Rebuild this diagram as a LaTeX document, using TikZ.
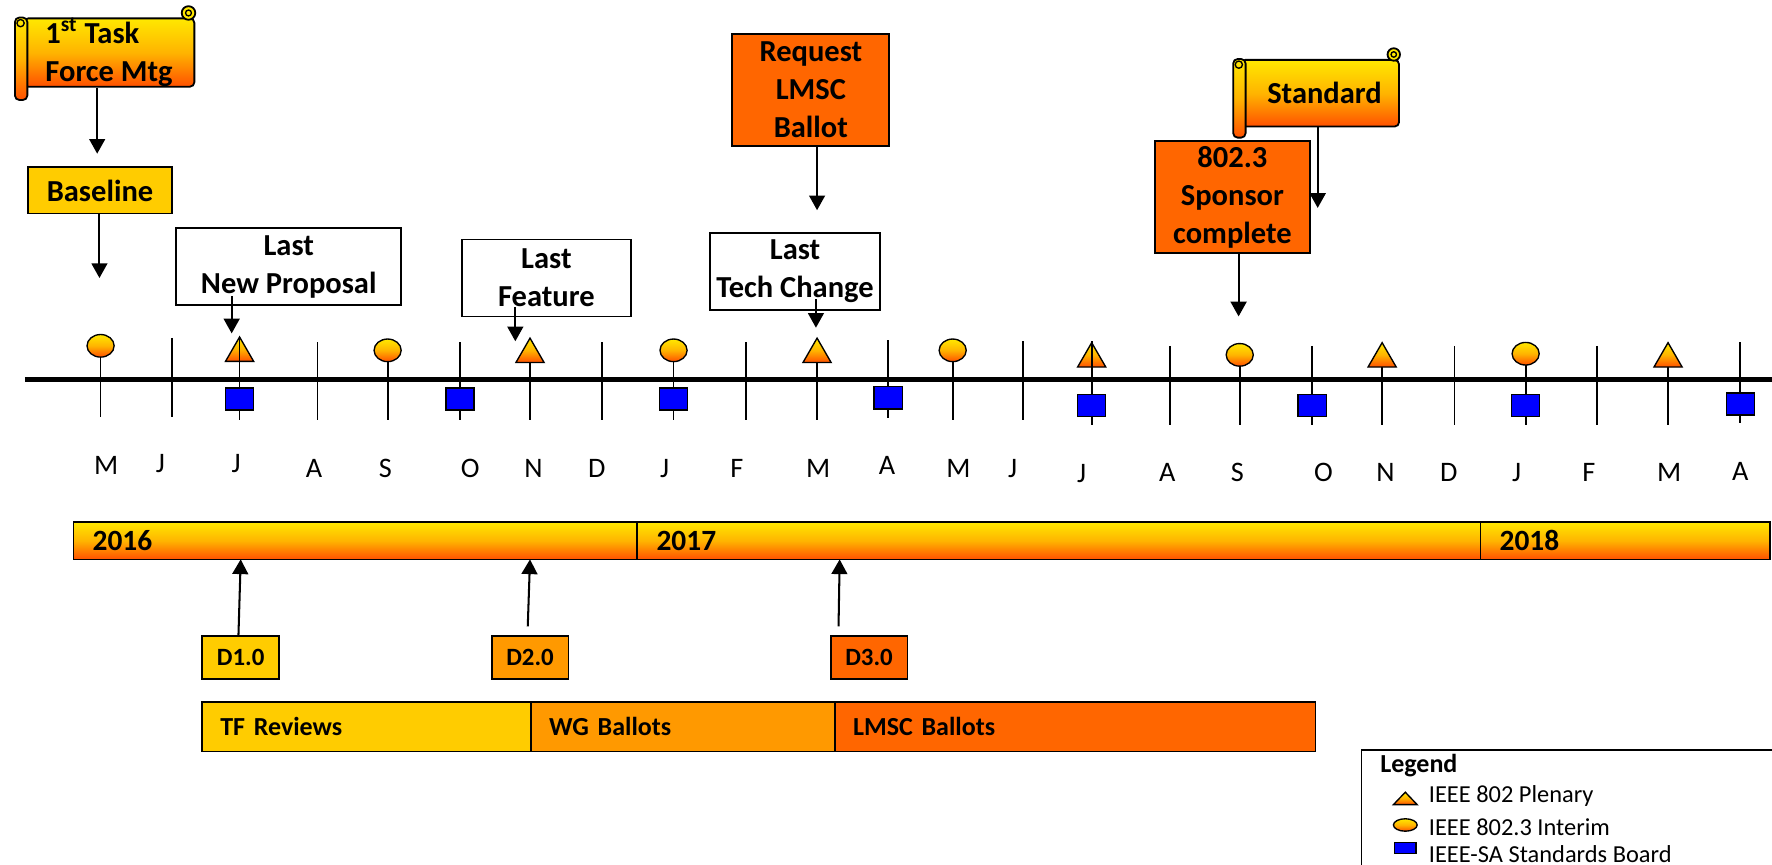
\documentclass[tikz,border=0pt]{standalone}
\usepackage{fontspec}
\setmainfont{Carlito}
\usetikzlibrary{positioning,calc,arrows.meta,shapes.geometric}

\definecolor{gold}{HTML}{FFCC00}
\definecolor{amber}{HTML}{FF9900}
\definecolor{pumpkin}{HTML}{FF6600}
\definecolor{sasbblue}{HTML}{0000FF}
\definecolor{shTop}{HTML}{FFE800}
\definecolor{shMid}{HTML}{FFB400}
\definecolor{shBot}{HTML}{FF5000}

\tikzset{
	boxfont/.style={font=\fontsize{13.5}{16.75}\selectfont\bfseries},
	msbox/.style={draw, line width=0.8pt, boxfont, align=center, inner sep=0pt},
	grad/.style={top color=shTop, bottom color=shBot, middle color=shMid},
	arr/.style={-{Triangle[length=6.5pt,width=7pt]}, line width=0.9pt},
	mtick/.style={line width=0.8pt},
	interim/.style={ellipse, draw, line width=0.6pt, grad, minimum width=12pt, minimum height=10pt, inner sep=0pt},
	plenary/.style={regular polygon, regular polygon sides=3, draw, line width=0.6pt, grad, minimum size=14.4pt, inner sep=0pt},
	sasb/.style={rectangle, draw, line width=0.6pt, fill=sasbblue, minimum width=12.5pt, minimum height=9.8pt, inner sep=0pt},
	month/.style={font=\fontsize{12.5}{14}\selectfont, anchor=base, inner sep=0pt},
	draftbox/.style={msbox, font=\fontsize{11}{13}\selectfont\bfseries, minimum width=34pt, minimum height=19pt},
	phasebar/.style={draw, line width=0.8pt, font=\fontsize{11.5}{14}\selectfont\bfseries, minimum height=22pt, inner xsep=8pt, outer sep=0pt, align=left, anchor=west},
	yearbar/.style={draw, line width=0.8pt, grad, font=\fontsize{13}{15}\selectfont\bfseries, minimum height=16.5pt, inner xsep=8.5pt, outer sep=0pt, align=left, anchor=west},
	scroll/.style={draw, line width=0.8pt, grad, rounded corners=2pt},
	legtext/.style={font=\fontsize{10.8}{12}\selectfont, anchor=base west, inner sep=0pt},
}

\begin{document}
\begin{tikzpicture}[x=0.5pt,y=-0.5pt]
	\useasboundingbox (0,0) rectangle (1568,765);

	% time line with months
	\draw[line width=2.2pt] (22,335.5) -- (1568,335.5);
	\foreach \tx/\lx/\m/\ly/\ta/\tb [count=\i] in {
		89/94/M/411.5/300/369, 152/142/J/410/299/369, 212/209/J/410/300/372,
		281/278/A/414.5/303/372, 343/341/S/414.5/304/372, 407/416/O/414.5/303/372,
		469/472/N/414.5/304/372, 533/528/D/414.5/303/372, 596/588/J/414.5/304/372,
		660/652/F/414.5/303/372, 723/724/M/414.5/304/372, 786/785/A/411.5/301/370,
		843/848/M/414.5/304/372, 905/896/J/414.5/302/372, 966/957/J/419/306/376,
		1035/1033/A/418/306/376, 1097/1095/S/418/308/376, 1161/1171/O/418/306/376,
		1223/1226/N/418/308/376, 1287/1282/D/418/306/376, 1350/1342/J/418/308/376,
		1413/1406/F/418/306/376, 1476/1477/M/418/308/376, 1540/1540/A/417/303/374}
	{
		\draw[mtick] (\tx,\ta) -- (\tx,\tb);
		\node[month] (m\i) at (\lx,\ly+8) {\m};
	}

	% meetings
	\foreach \x/\y [count=\i] in {89/306, 343/310, 596/310, 843/310, 1097/314, 1350/313}
		\node[interim] (int\i) at (\x,\y) {};
	\foreach \x/\y [count=\i] in {212/309, 469/310, 723/310, 966/314, 1223/314, 1476/314}
		\node[plenary] (plen\i) at (\x,\y+3.6) {};
	\draw[mtick] (plen1.north) -- (plen1.south);
	\draw[mtick] (plen4.north) -- (plen4.south);
	\foreach \x/\y [count=\i] in {212/353, 407/353, 596/353, 786/352, 966/359, 1161/359, 1350/359, 1540/357.5}
		\node[sasb] (sasb\i) at (\x,\y) {};

	% milestones above the line
	\node[scroll, boxfont, align=left, minimum width=75.5pt, minimum height=28.5pt, inner sep=0pt] (tfm) at (96.5,46.5) {1\textsuperscript{st} Task\\Force Mtg};
	\draw[scroll] ([xshift=-3.5pt]tfm.north west) rectangle ([xshift=2pt,yshift=-5.5pt]tfm.south west);
	\draw[line width=0.6pt] ([xshift=-1pt,yshift=-2.5pt]tfm.north west) circle (1.6pt);
	\draw[line width=0.8pt, fill=shTop] ([xshift=-3pt,yshift=2pt]tfm.north east) circle (3pt);
	\draw[line width=0.6pt] ([xshift=-3pt,yshift=2pt]tfm.north east) circle (1.3pt);

	\node[msbox, fill=gold, minimum width=63.5pt, minimum height=20.5pt] (base) at (88.5,168.5) {Baseline};
	\node[msbox, minimum width=99.5pt, minimum height=34pt] (lnp) at (255.5,236) {Last\\New Proposal};
	\node[msbox, minimum width=74.5pt, minimum height=34pt] (lfeat) at (483.5,246) {Last\\Feature};
	\node[msbox, minimum width=75.5pt, minimum height=34pt] (ltech) at (703.5,240) {Last\\Tech Change};
	\node[msbox, fill=pumpkin, minimum width=69.5pt, minimum height=49.5pt] (req) at (717.5,79.5) {Request\\LMSC\\Ballot};

	\node[scroll, boxfont, minimum width=70pt, minimum height=29.5pt, inner sep=0pt] (std) at (1168,82.5) {\hspace{4pt}Standard};
	\draw[scroll] ([xshift=-3pt]std.north west) rectangle ([xshift=2.5pt,yshift=-4.5pt]std.south west);
	\draw[line width=0.6pt] ([xshift=-0.5pt,yshift=-2.5pt]std.north west) circle (1.6pt);
	\draw[line width=0.8pt, fill=shTop] ([xshift=-2.75pt,yshift=2pt]std.north east) circle (2.75pt);
	\draw[line width=0.6pt] ([xshift=-2.75pt,yshift=2pt]std.north east) circle (1.2pt);
	\node[msbox, fill=pumpkin, minimum width=68.5pt, minimum height=49.5pt] (spons) at (1090.5,174.5) {802.3\\Sponsor\\complete};

	% arrows to the line
	\coordinate (baseIn) at (86,136);
	\coordinate (int1In) at (88,246);
	\coordinate (nprIn) at (205,295);
	\coordinate (featIn) at (456,302);
	\coordinate (techIn) at (722,290);
	\coordinate (reqIn) at (723,186);
	\coordinate (stdIn) at (1166,184);
	\coordinate (sponsIn) at (1096,280);
	\draw[arr] (tfm.south -| baseIn) -- (baseIn);
	\draw[arr] (base.south -| int1In) -- (int1In);
	\draw[arr] ($(lnp.south -| nprIn)+(0,-9)$) -- (nprIn);
	\draw[arr] ($(lfeat.south -| featIn)+(0,-9)$) -- (featIn);
	\draw[arr] ($(ltech.south -| techIn)+(0,-10)$) -- (techIn);
	\draw[arr] (req.south -| reqIn) -- (reqIn);
	\draw[arr] (std.south -| stdIn) -- (stdIn);
	\draw[arr] (spons.south -| sponsIn) -- (sponsIn);

	% years
	\node[yearbar, text width=232.5pt] (y16) at (65,478.5) {2016};
	\node[yearbar, text width=356pt] (y17) at (y16.east) {2017};
	\node[yearbar, text width=111pt] (y18) at (y17.east) {2018};

	% drafts
	\node[draftbox, fill=gold] (d1) at (213,582) {D1.0};
	\node[draftbox, fill=amber] (d2) at (469,582) {D2.0};
	\node[draftbox, fill=pumpkin] (d3) at (769,582) {D3.0};
	\draw[arr] ([xshift=-1pt]d1.north) -- (d1.north |- y16.south);
	\draw[arr] ([xshift=-1pt,yshift=4pt]d2.north) -- (d2.north |- y16.south);
	\draw[arr] ($(d3.north)+(-27,-8)$) -- ($(d3.north |- y17.south)+(-26,0)$);

	% ballot phases
	\node[phasebar, fill=gold, text width=129.5pt] (tfr) at (179,643) {TF Reviews};
	\node[phasebar, fill=amber, text width=118.5pt] (wgb) at (tfr.east) {WG Ballots};
	\node[phasebar, fill=pumpkin, text width=196.5pt] (lmscb) at (wgb.east) {LMSC Ballots};

	% legend
	\node[draw, line width=0.8pt, minimum width=200pt, minimum height=70pt, anchor=north west] (legend) at (1204,663) {};
	\node[font=\fontsize{11.5}{13}\selectfont\bfseries, anchor=west, inner sep=0pt] (legT) at (1221,677) {Legend};
	\draw[line width=0.6pt, grad] (1233,712) -- (1254,712) -- (1243.5,701) -- cycle;
	\node[ellipse, draw, line width=0.6pt, grad, minimum width=10.5pt, minimum height=5.5pt, inner sep=0pt] (legInt) at (1243.5,730) {};
	\node[sasb, minimum width=9.5pt, minimum height=4.75pt] (legSasb) at (1243.5,750.5) {};
	\node[legtext] (legPlen) at (1264,710) {IEEE 802 Plenary};
	\node[legtext] (legInterim) at (1264,739) {IEEE 802.3 Interim};
	\node[legtext] (legBoard) at (1264,763) {IEEE-SA Standards Board};
\end{tikzpicture}
\end{document}
